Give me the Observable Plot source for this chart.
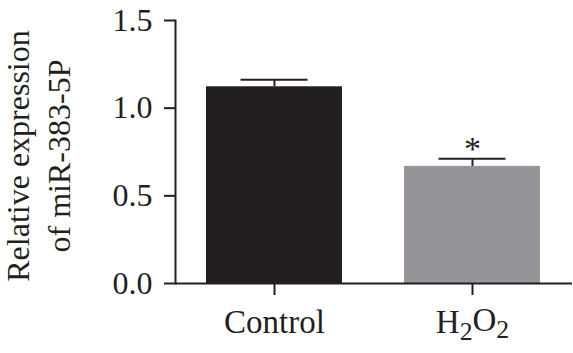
<!DOCTYPE html>
<html>
<head>
<meta charset="utf-8">
<script src="https://cdn.jsdelivr.net/npm/d3@7"></script>
<script src="https://cdn.jsdelivr.net/npm/@observablehq/plot@0.6"></script>
<style>
  html, body { margin: 0; padding: 0; background: white; }
</style>
</head>
<body>
<div id="chart"></div>
<script>
const categories = ["Control", "H2O2"];
const means = [1.122, 0.668];
const sems = [0.040, 0.044];
const barColors = ["#231f20", "#939598"];
const significance = ["", "*"];
const yTicks = [0, 0.5, 1.0, 1.5];
const yLabel = "Relative expression\nof miR-383-5P";

const data = categories.map((c, i) => ({
  group: c, mean: means[i], upper: means[i] + sems[i], star: significance[i]
}));

const ink = "#231f20";

const chart = Plot.plot({
  width: 573,
  height: 353,
  marginLeft: 175,
  marginRight: 1,
  marginTop: 20,
  marginBottom: 70,
  style: {
    fontFamily: "'Liberation Serif', 'Times New Roman', serif",
    fontSize: "32px",
    color: ink,
    background: "white"
  },
  x: { domain: categories, paddingInner: 0.313, paddingOuter: 0.159, axis: null, label: null },
  y: { domain: [0, 1.5], axis: null, label: null },
  color: { domain: categories, range: barColors },
  marks: [
    Plot.barY(data, { x: "group", y: "mean", fill: "group" }),
    Plot.ruleX(data, { x: "group", y1: "mean", y2: "upper", stroke: ink, strokeWidth: 2 }),
    Plot.tickY(data, { x: "group", y: "upper", stroke: ink, strokeWidth: 2, insetLeft: 34.5, insetRight: 34.5 }),
    Plot.text(data, { x: "group", y: "upper", text: "star", lineAnchor: "bottom", dy: 1, fontSize: 34, fill: ink }),
    Plot.axisY({ ticks: yTicks, tickFormat: d3.format(".1f"), tickSize: 11, tickPadding: 12, strokeWidth: 2, label: null, fontSize: 32 }),
    Plot.axisX({ tickSize: 12, tickPadding: 14, strokeWidth: 2, label: null, fontSize: 33 }),
    Plot.ruleY([0], { stroke: ink, strokeWidth: 2 }),
    Plot.frame({ anchor: "left", stroke: ink, strokeWidth: 2 }),
    Plot.text([yLabel], { frameAnchor: "left", rotate: -90, textAnchor: "middle", dx: -139, dy: 4, lineHeight: 1.28, lineAnchor: "middle", fontSize: 32, fill: ink })
  ]
});

// Render chemical formula subscripts as tspans
d3.select(chart).selectAll("text").each(function () {
  const t = d3.select(this);
  if (t.text() === "H2O2") {
    t.text(null);
    t.append("tspan").text("H");
    t.append("tspan").attr("dy", "0.27em").attr("font-size", "0.78em").text("2");
    t.append("tspan").attr("dy", "-0.27em").text("O");
    t.append("tspan").attr("dy", "0.27em").attr("font-size", "0.78em").text("2");
  }
});

document.getElementById("chart").appendChild(chart);
</script>
</body>
</html>
